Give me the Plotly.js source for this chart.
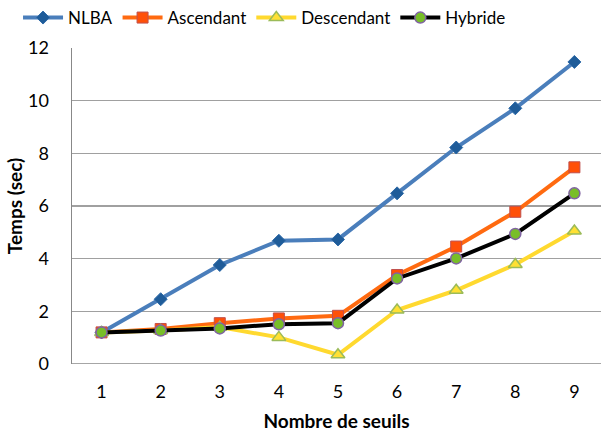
<!DOCTYPE html>
<html><head><meta charset="utf-8">
<script src="https://cdn.plot.ly/plotly-3.0.1.min.js"></script>
<style>html,body{margin:0;padding:0;background:#fff}#chart{width:601px;height:432px}</style>
</head><body><div id="chart"></div>
<script>
var seuils = [1, 2, 3, 4, 5, 6, 7, 8, 9];
var nlba = [1.2, 2.46, 3.76, 4.68, 4.73, 6.48, 8.22, 9.71, 11.47];
var ascendant = [1.2, 1.33, 1.55, 1.73, 1.83, 3.38, 4.46, 5.78, 7.47];
var descendant = [1.2, 1.27, 1.4, 1.01, 0.35, 2.05, 2.8, 3.78, 5.05];
var hybride = [1.2, 1.27, 1.35, 1.51, 1.55, 3.25, 4.01, 4.94, 6.48];
var seriesNames = ['NLBA', 'Ascendant', 'Descendant', 'Hybride'];

var font = 'Lato, "Open Sans", sans-serif';
var traces = [
  {x: seuils, y: nlba, name: seriesNames[0], mode: 'lines+markers',
   line: {color: '#4A7EBB', width: 4},
   marker: {symbol: 'diamond', size: 10, color: '#1F5C99', line: {color: '#2E6AA8', width: 1}}},
  {x: seuils, y: ascendant, name: seriesNames[1], mode: 'lines+markers',
   line: {color: '#FF6A10', width: 4},
   marker: {symbol: 'square', size: 11, color: '#FF5008', line: {color: '#C0504D', width: 1}}},
  {x: seuils, y: descendant, name: seriesNames[2], mode: 'lines+markers',
   line: {color: '#FFD92F', width: 4},
   marker: {symbol: 'triangle-up', size: 12, color: '#FFE033', line: {color: '#9BBB59', width: 1.5}}},
  {x: seuils, y: hybride, name: seriesNames[3], mode: 'lines+markers',
   line: {color: '#000000', width: 4},
   marker: {symbol: 'circle', size: 11, color: '#78BE28', line: {color: '#8064A2', width: 1.5}}}
];

var layout = {
  width: 601, height: 432,
  margin: {l: 72, r: 0, t: 48, b: 68},
  paper_bgcolor: '#fff', plot_bgcolor: '#fff',
  font: {family: font, color: '#000'},
  showlegend: true,
  legend: {orientation: 'h', x: 0.03, xref: 'container', y: 1.0, yref: 'container', yanchor: 'top',
           font: {size: 17, family: font}, itemwidth: 40, tracegroupgap: 0, bgcolor: 'rgba(0,0,0,0)'},
  xaxis: {range: [0.5, 9.45], tickvals: seuils, ticktext: seuils.map(String),
          showgrid: false, zeroline: false, showline: false, ticks: '',
          tickfont: {size: 18, family: font}, ticklabelstandoff: 15,
          title: {text: '<b>Nombre de seuils</b>', font: {size: 19, family: font}, standoff: 16}},
  yaxis: {range: [0, 12], dtick: 2, showgrid: true, gridcolor: '#A0A0A0', gridwidth: 1.5,
          zeroline: false, showline: true, linecolor: '#888', linewidth: 1.5, ticks: '',
          tickfont: {size: 18, family: font}, ticklabelstandoff: 18,
          title: {text: '<b>Temps (sec)</b>', font: {size: 19, family: font}, standoff: 0}},
  shapes: [{type: 'line', xref: 'paper', yref: 'y', x0: 0, x1: 1, y0: 0, y1: 0,
            line: {color: '#888', width: 1.5}}]
};
Plotly.newPlot('chart', traces, layout, {displayModeBar: false, staticPlot: true});
</script></body></html>
